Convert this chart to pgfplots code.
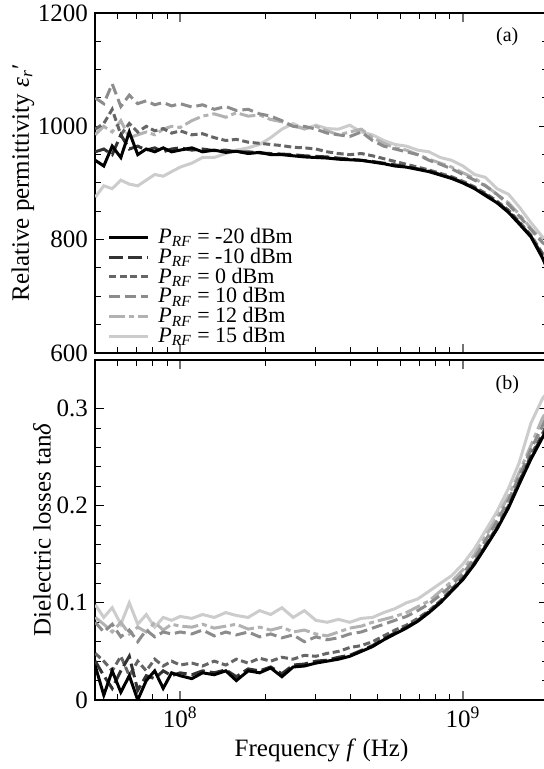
\documentclass[border=0pt]{standalone}
\usepackage{fontspec}
\setmainfont{Liberation Serif}
\usepackage{pgfplots}
\usepackage{pgfplotstable}
\pgfplotsset{compat=1.18}

\pgfplotstableread{
f m20 m10 p0 p10 p12 p15
5.01e7 940 955 995 1050 985 875
5.37e7 930 960 1005 1040 1000 895
5.75e7 965 950 1030 1075 990 890
6.17e7 945 985 985 1035 1010 905
6.61e7 990 960 1005 1055 980 898
7.08e7 950 965 990 1040 985 895
7.59e7 960 958 1000 1045 990 905
8.13e7 955 962 992 1038 985 915
8.71e7 962 955 996 1042 995 912
9.33e7 955 960 988 1036 1000 920
1.00e8 958 962 992 1040 998 928
1.10e8 962 958 985 1034 1010 935
1.20e8 955 960 987 1038 1018 945
1.32e8 958 957 980 1030 1022 945
1.45e8 954 958 975 1035 1016 952
1.58e8 956 955 977 1028 1024 958
1.74e8 952 955 972 1030 1018 962
1.91e8 954 953 970 1022 1020 968
2.09e8 950 952 968 1018 1012 980
2.29e8 950 951 966 1010 1008 995
2.51e8 948 950 963 1000 1000 1005
2.75e8 946 948 962 1000 996 995
3.02e8 945 947 960 995 1000 1002
3.31e8 944 946 955 988 992 996
3.63e8 942 944 952 985 985 995
3.98e8 941 942 950 982 990 1002
4.37e8 940 940 952 990 995 990
4.79e8 937 938 948 975 980 985
5.25e8 934 935 943 965 970 975
5.75e8 930 932 938 960 962 968
6.31e8 928 929 933 955 958 965
6.92e8 924 925 928 950 950 958
7.59e8 920 921 923 940 942 955
8.32e8 914 915 917 933 935 945
9.12e8 908 909 911 925 928 940
1.00e9 900 901 903 915 918 930
1.10e9 890 891 893 905 908 915
1.20e9 878 880 882 895 896 910
1.32e9 865 866 868 880 880 890
1.45e9 848 850 852 862 865 880
1.58e9 828 830 832 842 845 858
1.74e9 805 806 808 818 820 830
1.91e9 768 772 776 795 798 805
2.00e9 745 750 756 788 790 800
}\permtable

\pgfplotstableread{
f m20 m10 p0 p10 p12 p15
5.01e7 0.035 0.040 0.048 0.080 0.085 0.098
5.37e7 0.005 0.025 0.040 0.070 0.078 0.085
5.75e7 0.030 0.012 0.030 0.078 0.070 0.095
6.17e7 0.008 0.030 0.045 0.065 0.080 0.078
6.61e7 0.025 0.045 0.025 0.072 0.068 0.100
7.08e7 0.000 0.010 0.040 0.060 0.075 0.078
7.59e7 0.020 0.025 0.030 0.072 0.070 0.088
8.13e7 0.030 0.022 0.042 0.065 0.080 0.075
8.71e7 0.012 0.030 0.035 0.070 0.072 0.085
9.33e7 0.028 0.025 0.040 0.068 0.078 0.082
1.00e8 0.025 0.028 0.036 0.070 0.076 0.086
1.10e8 0.022 0.026 0.038 0.068 0.075 0.084
1.20e8 0.028 0.030 0.035 0.072 0.078 0.088
1.32e8 0.026 0.028 0.040 0.066 0.074 0.085
1.45e8 0.030 0.031 0.036 0.070 0.076 0.090
1.58e8 0.020 0.024 0.042 0.067 0.078 0.087
1.74e8 0.030 0.032 0.038 0.070 0.073 0.085
1.91e8 0.028 0.030 0.043 0.065 0.075 0.092
2.09e8 0.033 0.034 0.040 0.068 0.072 0.088
2.29e8 0.024 0.027 0.044 0.064 0.075 0.095
2.51e8 0.034 0.036 0.042 0.067 0.070 0.085
2.75e8 0.035 0.037 0.046 0.060 0.072 0.092
3.02e8 0.038 0.040 0.045 0.065 0.068 0.082
3.31e8 0.040 0.041 0.048 0.062 0.066 0.080
3.63e8 0.042 0.044 0.050 0.064 0.070 0.083
3.98e8 0.045 0.046 0.054 0.068 0.074 0.080
4.37e8 0.050 0.051 0.056 0.070 0.076 0.084
4.79e8 0.055 0.056 0.060 0.074 0.080 0.085
5.25e8 0.062 0.063 0.066 0.078 0.083 0.090
5.75e8 0.068 0.069 0.072 0.082 0.086 0.094
6.31e8 0.074 0.075 0.077 0.086 0.090 0.100
6.92e8 0.081 0.082 0.084 0.092 0.096 0.104
7.59e8 0.090 0.091 0.092 0.099 0.102 0.112
8.32e8 0.100 0.101 0.102 0.108 0.112 0.120
9.12e8 0.112 0.113 0.114 0.118 0.122 0.128
1.00e9 0.124 0.125 0.126 0.130 0.134 0.140
1.10e9 0.140 0.141 0.142 0.146 0.150 0.156
1.20e9 0.157 0.158 0.159 0.164 0.168 0.174
1.32e9 0.176 0.177 0.178 0.184 0.188 0.194
1.45e9 0.198 0.199 0.200 0.206 0.210 0.218
1.58e9 0.222 0.224 0.225 0.230 0.234 0.244
1.74e9 0.248 0.250 0.252 0.258 0.262 0.285
1.91e9 0.270 0.272 0.274 0.282 0.290 0.310
2.00e9 0.282 0.284 0.286 0.295 0.300 0.318
}\losstable

\tikzset{
  s20/.style={black, line width=1.5pt},
  s10/.style={black!80, line width=1.5pt, dash pattern=on 7pt off 2.5pt},
  s0/.style={black!60, line width=1.5pt, dash pattern=on 3.5pt off 1.8pt},
  sp10/.style={black!45, line width=1.5pt, dash pattern=on 5.5pt off 2.5pt},
  sp12/.style={black!30, line width=1.5pt, dash pattern=on 8pt off 2pt on 2.5pt off 2pt},
  sp15/.style={black!20, line width=1.5pt},
}

\begin{document}
\begin{tikzpicture}
\useasboundingbox (0,0) rectangle (271.5pt,384.5pt);

\begin{axis}[
  xmode=log, xmin=5e7, xmax=2e9,
  width=226.5pt, height=170pt, scale only axis, anchor=south west,
  at={(47.5pt,208pt)},
  axis line style={line width=0.6pt},
  tick align=inside,
  xtick={1e8,1e9},
  minor xtick={6e7,7e7,8e7,9e7,2e8,3e8,4e8,5e8,6e8,7e8,8e8,9e8},
  major tick length=4.5pt, minor tick length=3pt,
  tick style={black, line width=0.5pt},
  major x tick style={black!55, line width=0.8pt},
  tick label style={font=\fontsize{12.5}{14}\selectfont},
  label style={font=\fontsize{12.5}{14}\selectfont},
  /pgf/number format/assume math mode=true,
  /pgf/number format/1000 sep={},
  ymin=600, ymax=1200, ytick={600,800,1000,1200}, minor y tick num=3,
  xticklabels={},
  ylabel={Relative permittivity \textit{ε}\textsubscript{\textit{r}}′},
  ylabel shift=-5pt,
  legend style={at={(0.025,0.015)}, anchor=south west,
    draw=none, fill=none, font=\fontsize{11}{11}\selectfont,
    row sep=0pt, column sep=2.5pt, inner sep=0.5pt, nodes={inner ysep=0.4pt}},
  legend cell align=left,
  reverse legend,
  legend image code/.code={\draw[#1] (0cm,0cm) -- (0.68cm,0cm);},
]
\addplot[sp15] table[x=f,y=p15] {\permtable};
\addlegendentry{\textit{P}\textsubscript{\textit{RF}} = 15 dBm}
\addplot[sp12] table[x=f,y=p12] {\permtable};
\addlegendentry{\textit{P}\textsubscript{\textit{RF}} = 12 dBm}
\addplot[sp10] table[x=f,y=p10] {\permtable};
\addlegendentry{\textit{P}\textsubscript{\textit{RF}} = 10 dBm}
\addplot[s0] table[x=f,y=p0] {\permtable};
\addlegendentry{\textit{P}\textsubscript{\textit{RF}} = 0 dBm}
\addplot[s10] table[x=f,y=m10] {\permtable};
\addlegendentry{\textit{P}\textsubscript{\textit{RF}} = -10 dBm}
\addplot[s20] table[x=f,y=m20] {\permtable};
\addlegendentry{\textit{P}\textsubscript{\textit{RF}} = -20 dBm}
\node[font=\fontsize{10}{11}\selectfont] at (rel axis cs:0.91,0.93) {(a)};
\end{axis}

\begin{axis}[
  xmode=log, xmin=5e7, xmax=2e9,
  width=226.5pt, height=170pt, scale only axis, anchor=south west,
  at={(47.5pt,34.5pt)},
  axis line style={line width=0.6pt},
  tick align=inside,
  xtick={1e8,1e9},
  minor xtick={6e7,7e7,8e7,9e7,2e8,3e8,4e8,5e8,6e8,7e8,8e8,9e8},
  major tick length=4.5pt, minor tick length=3pt,
  tick style={black, line width=0.5pt},
  major x tick style={black!55, line width=0.8pt},
  tick label style={font=\fontsize{12.5}{14}\selectfont},
  label style={font=\fontsize{12.5}{14}\selectfont},
  /pgf/number format/assume math mode=true,
  /pgf/number format/1000 sep={},
  ymin=0, ymax=0.35, ytick={0,0.1,0.2,0.3}, minor y tick num=4,
  xticklabels={10\textsuperscript{8},10\textsuperscript{9}},
  xlabel={Frequency \textit{f} (Hz)},
  xlabel style={yshift=1pt},
  ylabel={Dielectric losses tan\textit{δ}},
  ylabel shift=-4pt,
  yticklabel style={/pgf/number format/fixed},
]
\addplot[sp15] table[x=f,y=p15] {\losstable};
\addplot[sp12] table[x=f,y=p12] {\losstable};
\addplot[sp10] table[x=f,y=p10] {\losstable};
\addplot[s0] table[x=f,y=p0] {\losstable};
\addplot[s10] table[x=f,y=m10] {\losstable};
\addplot[s20] table[x=f,y=m20] {\losstable};
\node[font=\fontsize{10}{11}\selectfont] at (rel axis cs:0.91,0.926) {(b)};
\end{axis}
\end{tikzpicture}
\end{document}
